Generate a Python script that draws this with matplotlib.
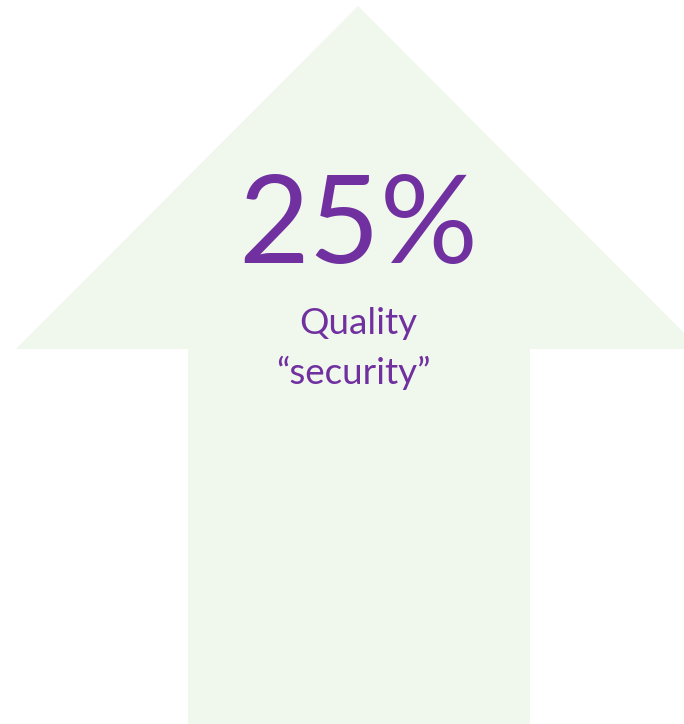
import matplotlib
matplotlib.use("Agg")
import matplotlib.pyplot as plt
from matplotlib.patches import Polygon

# data
value = "25%"
label_lines = ["Quality", "\u201csecurity\u201d"]

fill_col = "#F0F7EC"
text_col = "#7030A0"

fig = plt.figure(figsize=(6.84, 7.24), dpi=100)
ax = fig.add_axes([0, 0, 1, 1])
ax.set_xlim(0, 684)
ax.set_ylim(724, 0)
ax.axis("off")

# arrow pointing up (head is a bit wider than the picture, clipped on the right)
tip_x, tip_y = 358, 6
head_y = 349
head_half = 342
shaft_l, shaft_r = 188, 530
arrow = [
    (tip_x, tip_y),
    (tip_x + head_half, head_y),
    (shaft_r, head_y),
    (shaft_r, 740),
    (shaft_l, 740),
    (shaft_l, head_y),
    (tip_x - head_half, head_y),
]
ax.add_patch(Polygon(arrow, closed=True, facecolor=fill_col, edgecolor="none"))

ax.text(358, 263, value, color=text_col, fontsize=88, family="Lato",
        ha="center", va="baseline")
ax.text(358, 334, label_lines[0], color=text_col, fontsize=26.5, family="Lato",
        ha="center", va="baseline")
ax.text(353, 384, label_lines[1], color=text_col, fontsize=26.5, family="Lato",
        ha="center", va="baseline")

fig.savefig("out.png", dpi=100)
